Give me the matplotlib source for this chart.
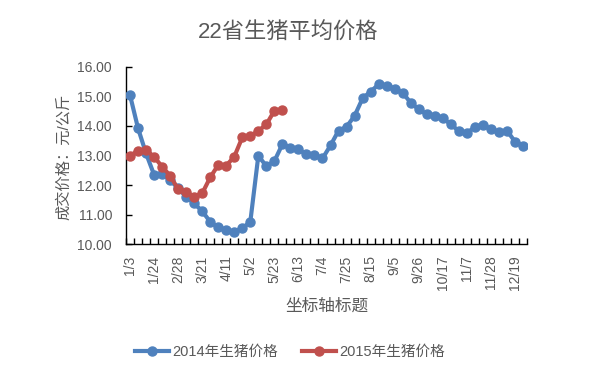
import matplotlib
matplotlib.use("Agg")
import matplotlib.pyplot as plt
from matplotlib.lines import Line2D

plt.rcParams['font.family'] = ['Liberation Sans', 'Noto Sans CJK SC', 'DejaVu Sans']

dates = ["1/3", "1/10", "1/17", "1/24", "2/14", "2/21", "2/28", "3/7", "3/14", "3/21",
         "3/28", "4/4", "4/11", "4/18", "4/25", "5/2", "5/9", "5/16", "5/23", "5/30",
         "6/6", "6/13", "6/20", "6/27", "7/4", "7/11", "7/18", "7/25", "8/1", "8/8",
         "8/15", "8/22", "8/29", "9/5", "9/12", "9/19", "9/26", "10/3", "10/10", "10/17",
         "10/24", "10/31", "11/7", "11/14", "11/21", "11/28", "12/5", "12/12", "12/19", "12/26"]

price_2014 = [15.04, 13.92, 13.07, 12.35, 12.37, 12.17, 11.89, 11.61, 11.38, 11.12,
              10.76, 10.57, 10.48, 10.43, 10.54, 10.76, 12.99, 12.64, 12.81, 13.38,
              13.27, 13.21, 13.04, 13.02, 12.90, 13.34, 13.84, 13.97, 14.34, 14.93,
              15.16, 15.40, 15.36, 15.26, 15.12, 14.78, 14.56, 14.39, 14.34, 14.25,
              14.06, 13.82, 13.75, 13.97, 14.04, 13.88, 13.80, 13.84, 13.47, 13.33]

price_2015 = [12.99, 13.16, 13.18, 12.96, 12.62, 12.32, 11.86, 11.77, 11.61, 11.72,
              12.26, 12.68, 12.66, 12.96, 13.61, 13.66, 13.83, 14.05, 14.51, 14.54]

label_2014 = "2014年生猪价格"
label_2015 = "2015年生猪价格"
title = "22省生猪平均价格"
xlabel = "坐标轴标题"
ylabel = "成交价格：元/公斤"

blue = "#4F81BD"
red = "#C0504D"
txt = "#595959"

W, H = 606, 365
fig = plt.figure(figsize=(W / 100, H / 100), dpi=100)
L, R, T, B = 126, 527, 66.7, 244.3
ax = fig.add_axes([L / W, 1 - B / H, (R - L) / W, (B - T) / H])

x14 = list(range(len(price_2014)))
x15 = list(range(len(price_2015)))
ax.plot(x14, price_2014, color=blue, lw=3, marker='o', ms=6.5, mec=blue, mfc=blue,
        solid_capstyle='round', zorder=3)
ax.plot(x15, price_2015, color=red, lw=3, marker='o', ms=6.5, mec=red, mfc=red,
        solid_capstyle='round', zorder=4)

ax.set_xlim(-0.5, len(dates) - 0.5)
ax.set_ylim(10, 16)
ax.set_yticks([10, 11, 12, 13, 14, 15, 16])
ax.set_yticklabels([f"{v:.2f}" for v in [10, 11, 12, 13, 14, 15, 16]])

ax.set_xticks(range(0, len(dates), 3))
ax.set_xticklabels([dates[i] for i in range(0, len(dates), 3)], rotation=90)
ax.set_xticks([i + 0.5 for i in range(-1, len(dates))], minor=True)

for s in ['top', 'right']:
    ax.spines[s].set_visible(False)
for s in ['left', 'bottom']:
    ax.spines[s].set_color('black')
    ax.spines[s].set_linewidth(1)

ax.tick_params(axis='y', direction='in', length=4, width=1, color='black',
               labelsize=10, labelcolor=txt, pad=10)
ax.tick_params(axis='x', which='major', length=0, labelsize=10, labelcolor=txt, pad=8)
ax.tick_params(axis='x', which='minor', direction='in', length=4, width=1, color='black')

fig.text(288 / W, 1 - 33 / H, title, ha='center', va='center', fontsize=16, color=txt)
fig.text(326.5 / W, 1 - 306 / H, xlabel, ha='center', va='center', fontsize=12, color=txt)
fig.text(64 / W, 1 - 157 / H, ylabel, ha='center', va='center', fontsize=11,
         color=txt, rotation=90)

handles = [Line2D([], [], color=blue, lw=3, marker='o', ms=6.5),
           Line2D([], [], color=red, lw=3, marker='o', ms=6.5)]
fig.legend(handles, [label_2014, label_2015], loc='center', bbox_to_anchor=(290 / W, 1 - 352 / H),
           ncol=2, frameon=False, fontsize=10.5, labelcolor=txt, handlelength=2.3,
           handletextpad=0.2, columnspacing=1.7)

fig.savefig("out.png", dpi=100)
